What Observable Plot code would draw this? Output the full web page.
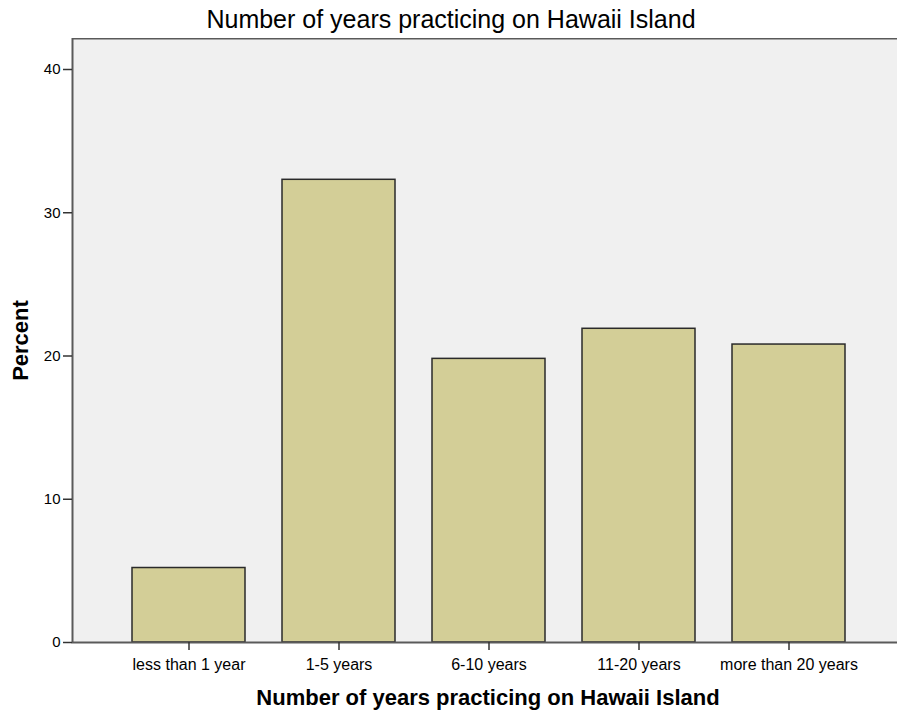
<!DOCTYPE html>
<html>
<head>
<meta charset="utf-8">
<script src="https://cdn.jsdelivr.net/npm/d3@7"></script>
<script src="https://cdn.jsdelivr.net/npm/@observablehq/plot@0.6"></script>
<style>
  html, body { margin: 0; padding: 0; background: #fff; overflow: hidden; }
  #title {
    width: 897px; height: 38px; line-height: 38px; text-align: center;
    font-family: "Liberation Sans", Arial, sans-serif; font-size: 25px; color: #000;
    padding-left: 5px; box-sizing: border-box;
  }
  #chart svg { display: block; }
</style>
</head>
<body>
<div id="title">Number of years practicing on Hawaii Island</div>
<div id="chart"></div>
<script>
const categories = ["less than 1 year", "1-5 years", "6-10 years", "11-20 years", "more than 20 years"];
const percents = [5.2, 32.3, 19.8, 21.9, 20.8];
const yTicks = [0, 10, 20, 30, 40];
const xLabel = "Number of years practicing on Hawaii Island";
const yLabel = "Percent";

const data = categories.map((c, i) => ({cat: c, pct: percents[i]}));

const chart = Plot.plot({
  width: 897,
  height: 676,
  marginTop: 0,
  marginLeft: 72,
  marginRight: 0,
  marginBottom: 72,
  style: {fontFamily: "'Liberation Sans', Arial, sans-serif", fontSize: "15px", color: "#000", background: "#fff"},
  x: {domain: categories, paddingInner: 0.247, paddingOuter: 0.4, insetRight: -8, label: null},
  y: {domain: [0, 40], insetTop: 31, label: null},
  marks: [
    Plot.frame({fill: "#f0f0f0", stroke: null}),
    Plot.barY(data, {x: "cat", y: "pct", fill: "#d3ce97", stroke: "#2a2a2a", strokeWidth: 1.5}),
    Plot.frame({stroke: "#5a5a5a", strokeWidth: 2, insetRight: -6}),
    Plot.axisY({ticks: yTicks, tickSize: 9, tickPadding: 3, fontSize: 15, stroke: "#333", strokeWidth: 1.5, label: null}),
    Plot.axisX({tickSize: 8, tickPadding: 8, fontSize: 16, stroke: "#333", strokeWidth: 1.5, label: null}),
    Plot.text([yLabel], {text: d => d, frameAnchor: "left", textAnchor: "middle", rotate: -90, dx: -52, fontWeight: "bold", fontSize: 22, lineAnchor: "middle"}),
    Plot.text([xLabel], {text: d => d, frameAnchor: "bottom", textAnchor: "middle", lineAnchor: "bottom", dy: 62, dx: 3, fontWeight: "bold", fontSize: 22})
  ]
});
document.getElementById("chart").appendChild(chart);
</script>
</body>
</html>
